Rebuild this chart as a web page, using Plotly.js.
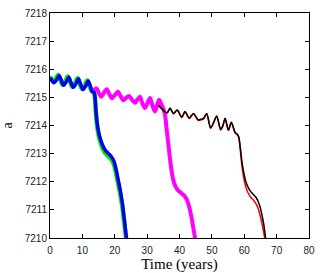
<!DOCTYPE html>
<html><head><meta charset="utf-8">
<script src="https://cdn.plot.ly/plotly-3.0.1.min.js"></script>
<style>html,body{margin:0;padding:0;background:#fff;}#c{width:327px;height:273px;}</style>
</head><body><div id="c"></div>
<script>
// Green series
const greenT = [0, 0.4, 1.0, 1.7, 2.5, 3.2, 3.9, 4.7, 5.5, 6.2, 6.9, 7.7, 8.5, 9.2, 9.9, 10.7, 11.5, 12.2, 12.9, 13.5, 13.9, 14.2, 14.6, 15.1, 15.7, 16.4, 17.2, 18.1, 18.9, 19.6, 20.2, 20.9, 21.6, 22.3, 22.9, 23.5, 24.0];
const greenA = [7215.74, 7215.66, 7215.55, 7215.64, 7215.8, 7215.62, 7215.45, 7215.57, 7215.74, 7215.55, 7215.38, 7215.5, 7215.68, 7215.47, 7215.3, 7215.42, 7215.6, 7215.4, 7215.22, 7215.18, 7214.95, 7214.4, 7213.95, 7213.62, 7213.37, 7213.15, 7213.0, 7212.9, 7212.8, 7212.66, 7212.42, 7212.02, 7211.62, 7211.14, 7210.6, 7210.0, 7209.6];
// Blue series
const blueT = [0, 0.5, 1.2, 2.0, 2.8, 3.5, 4.2, 5.0, 5.8, 6.5, 7.2, 8.0, 8.8, 9.5, 10.2, 11.0, 11.8, 12.5, 13.1, 13.6, 13.9, 14.2, 14.6, 15.1, 15.7, 16.4, 17.2, 18.1, 18.9, 19.7, 20.3, 21.0, 21.7, 22.4, 23.0, 23.6, 24.1];
const blueA = [7215.7, 7215.62, 7215.52, 7215.62, 7215.78, 7215.6, 7215.43, 7215.55, 7215.72, 7215.52, 7215.36, 7215.48, 7215.66, 7215.45, 7215.28, 7215.4, 7215.58, 7215.38, 7215.2, 7215.2, 7215.0, 7214.5, 7214.05, 7213.72, 7213.47, 7213.26, 7213.1, 7213.0, 7212.9, 7212.75, 7212.5, 7212.1, 7211.7, 7211.2, 7210.6, 7210.0, 7209.6];
// Magenta series
const magT = [13.4, 14.4, 15.1, 15.8, 16.6, 17.5, 18.3, 19.1, 20.0, 21.0, 21.8, 22.6, 23.5, 24.4, 25.3, 26.3, 27.0, 27.8, 28.5, 29.3, 30.1, 30.9, 31.6, 32.4, 33.0, 33.7, 34.4, 35.0, 35.5, 36.0, 36.6, 37.3, 38.0, 38.7, 39.5, 40.5, 41.5, 42.3, 43.0, 43.6, 44.2, 44.8, 45.2];
const magA = [7215.26, 7215.32, 7215.15, 7215.02, 7215.15, 7215.29, 7215.12, 7214.97, 7215.08, 7215.2, 7215.05, 7214.9, 7214.98, 7215.05, 7214.92, 7214.81, 7214.92, 7215.02, 7214.8, 7214.62, 7214.8, 7214.98, 7214.72, 7214.5, 7214.7, 7214.92, 7214.75, 7214.6, 7214.4, 7213.9, 7213.3, 7212.6, 7212.1, 7211.85, 7211.7, 7211.6, 7211.5, 7211.35, 7211.1, 7210.8, 7210.4, 7210.0, 7209.7];
// Red series
const redT = [33.5, 34.5, 35.3, 36.2, 37.1, 38.1, 39.3, 40.7, 41.7, 43.0, 44.3, 45.8, 46.6, 47.4, 48.4, 49.6, 50.5, 51.5, 52.7, 53.4, 54.1, 55.1, 56.0, 56.6, 57.2, 57.8, 58.3, 58.8, 59.3, 59.9, 60.5, 61.2, 62.0, 62.8, 63.6, 64.3, 64.9, 65.5, 66.0, 66.6, 67.0];
const redA = [7214.7, 7214.6, 7214.5, 7214.45, 7214.6, 7214.42, 7214.53, 7214.28, 7214.48, 7214.25, 7214.41, 7214.18, 7214.2, 7214.23, 7214.4, 7213.9, 7214.08, 7214.32, 7213.84, 7213.98, 7214.24, 7213.82, 7214.1, 7213.93, 7213.73, 7213.68, 7213.56, 7213.1, 7212.55, 7212.1, 7211.8, 7211.6, 7211.45, 7211.35, 7211.22, 7211.05, 7210.8, 7210.5, 7210.2, 7209.8, 7209.5];
// Black series
const blackT = [33.5, 34.5, 35.3, 36.2, 37.1, 38.1, 39.3, 40.7, 41.7, 43.0, 44.3, 45.8, 46.6, 47.4, 48.4, 49.6, 50.5, 51.5, 52.7, 53.4, 54.1, 55.1, 56.0, 56.6, 57.2, 57.8, 58.3, 58.8, 59.3, 59.9, 60.5, 61.2, 62.0, 62.8, 63.6, 64.3, 64.9, 65.5, 66.0, 66.6, 67.0];
const blackA = [7214.72, 7214.6, 7214.5, 7214.45, 7214.62, 7214.43, 7214.55, 7214.3, 7214.5, 7214.27, 7214.43, 7214.2, 7214.22, 7214.25, 7214.43, 7213.92, 7214.1, 7214.34, 7213.86, 7214.0, 7214.26, 7213.84, 7214.12, 7213.95, 7213.75, 7213.7, 7213.6, 7213.2, 7212.7, 7212.3, 7212.0, 7211.8, 7211.65, 7211.55, 7211.45, 7211.3, 7211.1, 7210.8, 7210.5, 7210.0, 7209.7];

const xTicks = [0, 10, 20, 30, 40, 50, 60, 70, 80];
const yTicks = [7210, 7211, 7212, 7213, 7214, 7215, 7216, 7217, 7218];

function tr(x, y, color, width) {
  return {x: x, y: y, mode: 'lines', type: 'scatter',
    line: {color: color, width: width, shape: 'spline', smoothing: 0.8},
    showlegend: false, hoverinfo: 'skip'};
}
const data = [
  tr(greenT, greenA, '#00ee00', 4.5),
  tr(blueT, blueA, '#0000ee', 3.5),
  tr(magT, magA, '#ff00ff', 4),
  tr(redT, redA, '#ff0000', 1.5),
  tr(blackT, blackA, '#000000', 1.5)
];
const axisCommon = {
  showgrid: false, zeroline: false, showline: true, linecolor: '#000', linewidth: 1,
  mirror: 'allticks', ticks: 'inside', ticklen: 4, tickcolor: '#000', tickwidth: 1,
  tickfont: {family: 'Liberation Sans, Arial, sans-serif', size: 10, color: '#222'}
};
const layout = {
  width: 327, height: 273,
  margin: {l: 50, r: 18, t: 13, b: 35},
  paper_bgcolor: '#fff', plot_bgcolor: '#fff',
  xaxis: Object.assign({}, axisCommon, {
    range: [0, 80], tickvals: xTicks, ticktext: xTicks.map(String),
    ticklabelstandoff: 3,
    title: {text: 'Time (years)', font: {family: 'Liberation Serif, Times New Roman, serif', size: 15, color: '#000'}, standoff: 1}
  }),
  yaxis: Object.assign({}, axisCommon, {
    range: [7210, 7218], tickvals: yTicks, ticktext: yTicks.map(String),
    title: {text: 'a', font: {family: 'Liberation Serif, Times New Roman, serif', size: 14, color: '#000'}, standoff: 14}
  })
};
Plotly.newPlot('c', data, layout, {staticPlot: true, displayModeBar: false});
</script>
</body></html>
